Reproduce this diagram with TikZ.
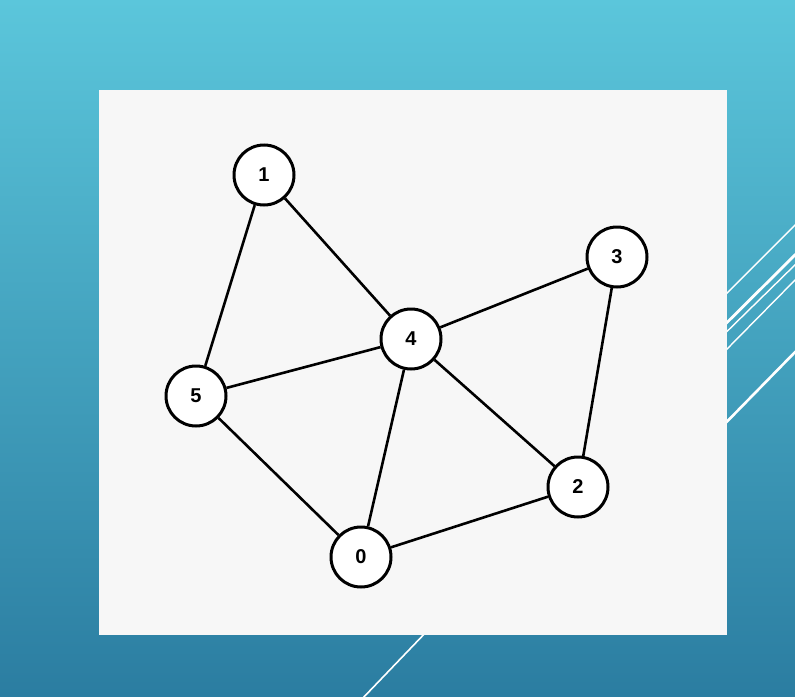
\documentclass[tikz,border=0pt]{standalone}
\usepackage{fontspec}
\setsansfont{Liberation Sans}
\begin{document}
\begin{tikzpicture}[x=1pt,y=-1pt,
  vtx/.style={circle,draw=black,fill=white,line width=3pt,minimum size=60pt,inner sep=0pt,
    font=\sffamily\bfseries\fontsize{20}{24}\selectfont},
  edge/.style={draw=black,line width=2.6pt},
  deco/.style={draw=white,line cap=round}]
\definecolor{bgtop}{HTML}{5BC6DB}
\definecolor{bgbot}{HTML}{2B7DA1}
\definecolor{panel}{HTML}{F7F7F7}
\useasboundingbox (0,0) rectangle (795,696);
\shade[top color=bgtop,bottom color=bgbot] (0,0) rectangle (795,696);
% decorative lines
\draw[deco,line width=1.4pt] (660,360) -- (800,220);
\draw[deco,line width=2.8pt] (660,389) -- (800,250);
\draw[deco,line width=1.4pt] (660,397) -- (800,260);
\draw[deco,line width=1.4pt] (660,417) -- (800,275);
\draw[deco,line width=2.6pt] (660,490) -- (800,347);
\draw[deco,line width=1.6pt] (430,628) -- (361,700);
\fill[panel] (99,90) rectangle (727,635);
\node[vtx] (n1) at (264,175) {1};
\node[vtx] (n3) at (617,257) {3};
\node[vtx] (n4) at (411,339) {4};
\node[vtx] (n5) at (196,396) {5};
\node[vtx] (n2) at (578,487) {2};
\node[vtx] (n0) at (361,557) {0};
\path[edge] (n1) -- (n5);
\path[edge] (n1) -- (n4);
\path[edge] (n4) -- (n3);
\path[edge] (n4) -- (n5);
\path[edge] (n4) -- (n0);
\path[edge] (n4) -- (n2);
\path[edge] (n3) -- (n2);
\path[edge] (n5) -- (n0);
\path[edge] (n0) -- (n2);
\end{tikzpicture}
\end{document}
